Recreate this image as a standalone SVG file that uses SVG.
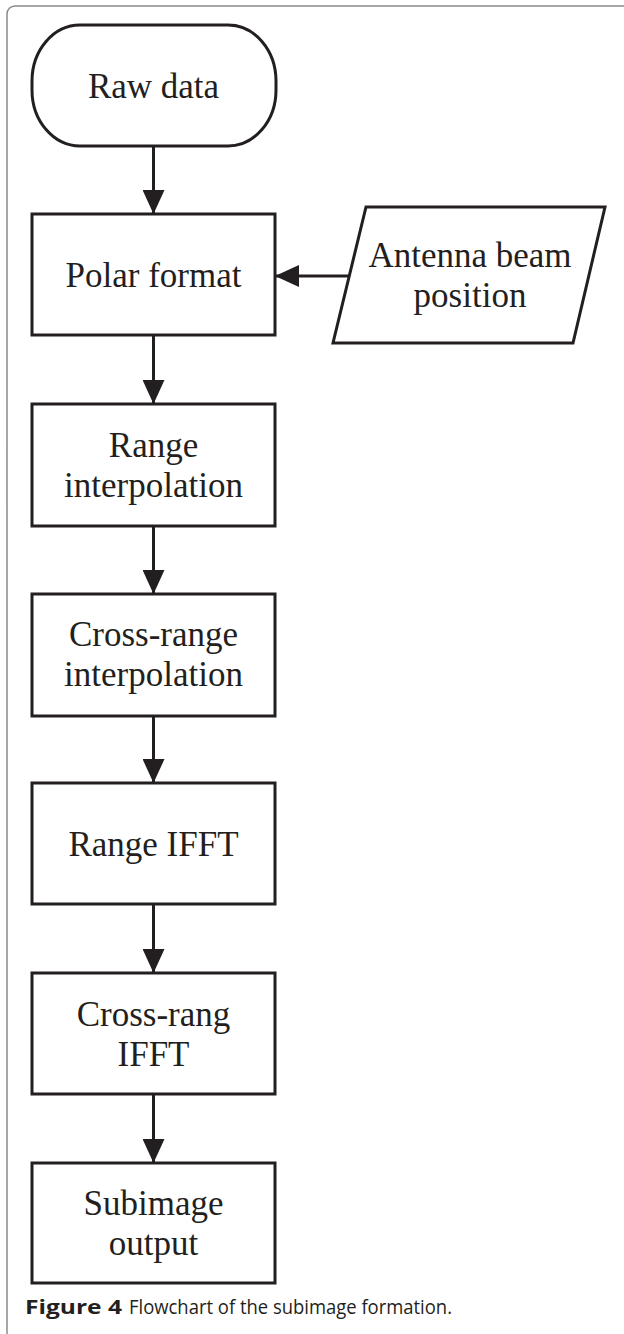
<svg xmlns="http://www.w3.org/2000/svg" width="624" height="1334" viewBox="0 0 624 1334">
<defs>
<style>
.shape{fill:#fff;stroke:#231f20;stroke-width:3}
.lbl{font-family:"Liberation Serif","Times New Roman",serif;font-size:35px;fill:#231f20;text-anchor:middle}
.conn{stroke:#231f20;stroke-width:3;fill:none}
.cap{font-family:"Open Sans","Liberation Sans",sans-serif;font-size:20px;fill:#231f20}
</style>
<marker id="ah" markerWidth="24" markerHeight="22" refX="24" refY="11" orient="auto" markerUnits="userSpaceOnUse">
<path d="M0,0 L24,11 L0,22 Z" fill="#231f20"/>
</marker>
</defs>
<rect width="624" height="1334" fill="#fff"/>
<rect id="frame" x="7" y="6" width="700" height="1400" rx="8" ry="8" fill="none" stroke="#8a8a8a" stroke-width="1.5"/>
<g id="raw-data">
<rect class="shape" x="32" y="25" width="244" height="121" rx="48" ry="56"/>
<text class="lbl" x="153.5" y="98">Raw data</text>
</g>
<g id="polar-format">
<rect class="shape" x="32" y="214" width="243" height="121"/>
<text class="lbl" x="153.5" y="287">Polar format</text>
</g>
<g id="antenna-beam">
<polygon class="shape" points="366,207 605,207 573,343 333,343"/>
<text class="lbl" x="470" y="267">Antenna beam</text>
<text class="lbl" x="470" y="307">position</text>
</g>
<g id="range-interp">
<rect class="shape" x="32" y="404" width="243" height="122"/>
<text class="lbl" x="153.5" y="457">Range</text>
<text class="lbl" x="153.5" y="497">interpolation</text>
</g>
<g id="cross-range-interp">
<rect class="shape" x="32" y="594" width="243" height="122"/>
<text class="lbl" x="153.5" y="646">Cross-range</text>
<text class="lbl" x="153.5" y="686">interpolation</text>
</g>
<g id="range-ifft">
<rect class="shape" x="32" y="783" width="243" height="121"/>
<text class="lbl" x="153.5" y="856">Range IFFT</text>
</g>
<g id="cross-rang-ifft">
<rect class="shape" x="32" y="973" width="243" height="121"/>
<text class="lbl" x="153.5" y="1026">Cross-rang</text>
<text class="lbl" x="153.5" y="1066">IFFT</text>
</g>
<g id="subimage-output">
<rect class="shape" x="32" y="1163" width="243" height="120"/>
<text class="lbl" x="153.5" y="1215">Subimage</text>
<text class="lbl" x="153.5" y="1255">output</text>
</g>
<g id="connectors">
<line class="conn" x1="153.5" y1="146" x2="153.5" y2="214" marker-end="url(#ah)"/>
<line class="conn" x1="349" y1="276" x2="275" y2="276" marker-end="url(#ah)"/>
<line class="conn" x1="153.5" y1="335" x2="153.5" y2="404" marker-end="url(#ah)"/>
<line class="conn" x1="153.5" y1="526" x2="153.5" y2="594" marker-end="url(#ah)"/>
<line class="conn" x1="153.5" y1="716" x2="153.5" y2="783" marker-end="url(#ah)"/>
<line class="conn" x1="153.5" y1="904" x2="153.5" y2="973" marker-end="url(#ah)"/>
<line class="conn" x1="153.5" y1="1094" x2="153.5" y2="1163" marker-end="url(#ah)"/>
</g>
<g id="caption">
<text class="cap" x="25" y="1314" font-weight="bold" textLength="97" lengthAdjust="spacingAndGlyphs">Figure 4</text>
<text class="cap" x="129" y="1314" textLength="323" lengthAdjust="spacingAndGlyphs">Flowchart of the subimage formation.</text>
</g>
</svg>
